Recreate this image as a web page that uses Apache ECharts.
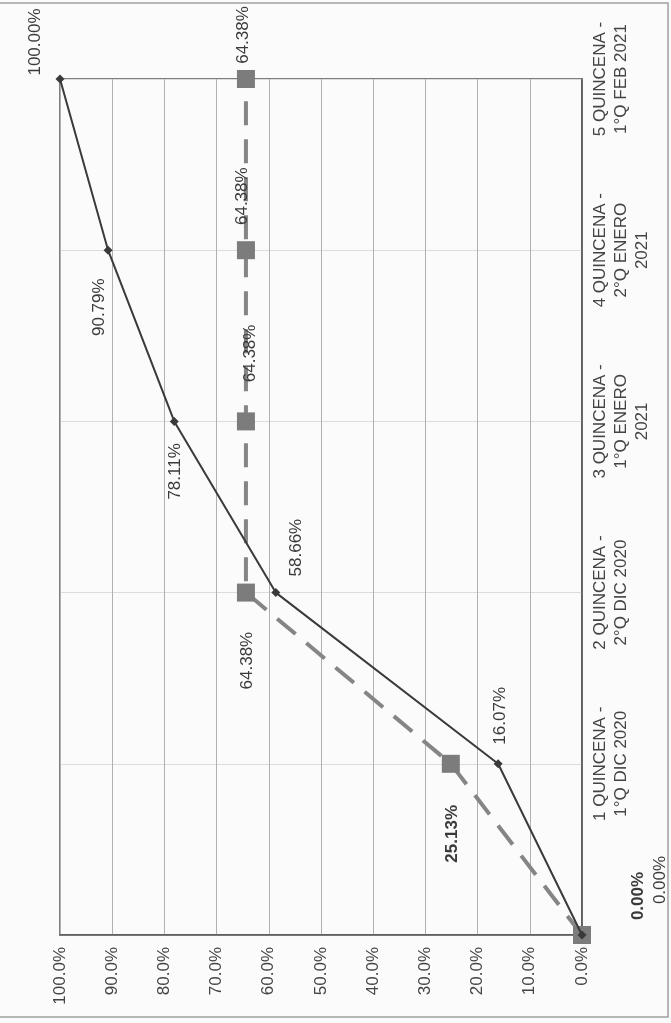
<!DOCTYPE html>
<html>
<head>
<meta charset="utf-8">
<script src="https://cdn.jsdelivr.net/npm/echarts@6/dist/echarts.min.js"></script>
<style>
html,body{margin:0;padding:0;background:#fbfbfb;}
#c{width:671px;height:1023px;}
</style>
</head>
<body>
<div id="c"></div>
<script>
// ---- data ----
const categories = [
  '',
  '1 QUINCENA -\n1°Q DIC 2020',
  '2 QUINCENA -\n2°Q DIC 2020',
  '3 QUINCENA -\n1°Q ENERO\n2021',
  '4 QUINCENA -\n2°Q ENERO\n2021',
  '5 QUINCENA -\n1°Q FEB 2021'
];
const realValues = [0, 16.07, 58.66, 78.11, 90.79, 100];
const planValues = [0, 25.13, 64.38, 64.38, 64.38, 64.38];
const valueTickLabels = ['0.0%','10.0%','20.0%','30.0%','40.0%','50.0%','60.0%','70.0%','80.0%','90.0%','100.0%'];

// ---- label styling (screen offsets, px) ----
const realLabelOffsets = [[78,-55],[2,-48],[21,-45],[1,50],[-9,57],[-25,-37]];
const planLabelOffsets = [[56,-39],[1,70],[1,68],[4,-68],[-4,-54],[-3,-44]];
const planLabelBold = [true, true, false, false, false, false];

const FONT = "'Liberation Sans', Arial, sans-serif";
// label is rotated 90deg CCW; offset is applied in the rotated frame
function toLocal(o){ return [-o[1], o[0]]; }

function buildData(vals, offs, bold){
  return vals.map((v,i)=>({
    value: v,
    label: { offset: toLocal(offs[i]), fontWeight: bold && bold[i] ? 'bold' : 'normal' }
  }));
}

const chart = echarts.init(document.getElementById('c'));
chart.setOption({
  backgroundColor: '#fbfbfb',
  animation: false,
  textStyle: { fontFamily: FONT },
  grid: { left: 60, right: 89, top: 79, bottom: 88, show: true, borderColor: '#555', borderWidth: 1.5, containLabel: false },
  xAxis: {
    type: 'value', min: 0, max: 100, interval: 10, inverse: true, position: 'bottom',
    axisLine: { show: true, lineStyle: { color: '#555', width: 1.5 } },
    axisTick: { show: false },
    splitLine: { show: true, lineStyle: { color: '#b0b0b0', width: 1 } },
    axisLabel: {
      rotate: 90, margin: 12, fontSize: 17, color: '#444', fontFamily: FONT,
      formatter: v => valueTickLabels[Math.round(v/10)]
    }
  },
  yAxis: {
    type: 'category', data: categories, boundaryGap: false, position: 'right',
    axisLine: { show: true, onZero: false, lineStyle: { color: '#555', width: 1.5 } },
    axisTick: { show: false },
    splitLine: { show: true, lineStyle: { color: '#dcdcdc', width: 1 } },
    axisLabel: { rotate: 90, margin: 8, fontSize: 17, lineHeight: 21, color: '#444', fontFamily: FONT, interval: 0 }
  },
  graphic: [{
    type: 'rect', silent: true, z: 100,
    shape: { x: -5, y: 3, width: 673, height: 1014 },
    style: { fill: 'none', stroke: '#a0a0a0', lineWidth: 1.5 }
  }],
  series: [
    {
      name: 'Plan', type: 'line', z: 2, clip: false,
      data: buildData(planValues, planLabelOffsets, planLabelBold),
      symbol: 'rect', symbolSize: 18,
      itemStyle: { color: '#7c7c7c' },
      lineStyle: { color: '#858585', width: 4, type: [24, 14] },
      label: {
        show: true, position: 'inside', rotate: 90, align: 'center', verticalAlign: 'middle',
        fontSize: 17, color: '#3a3a3a', fontFamily: FONT,
        formatter: p => p.value.toFixed(2) + '%'
      }
    },
    {
      name: 'Real', type: 'line', z: 3, clip: false,
      data: buildData(realValues, realLabelOffsets, null),
      symbol: 'diamond', symbolSize: 9,
      itemStyle: { color: '#3a3a3a' },
      lineStyle: { color: '#3a3a3a', width: 2 },
      label: {
        show: true, position: 'inside', rotate: 90, align: 'center', verticalAlign: 'middle',
        fontSize: 17, color: '#3a3a3a', fontFamily: FONT,
        formatter: p => p.value.toFixed(2) + '%'
      }
    }
  ]
});
</script>
</body>
</html>
